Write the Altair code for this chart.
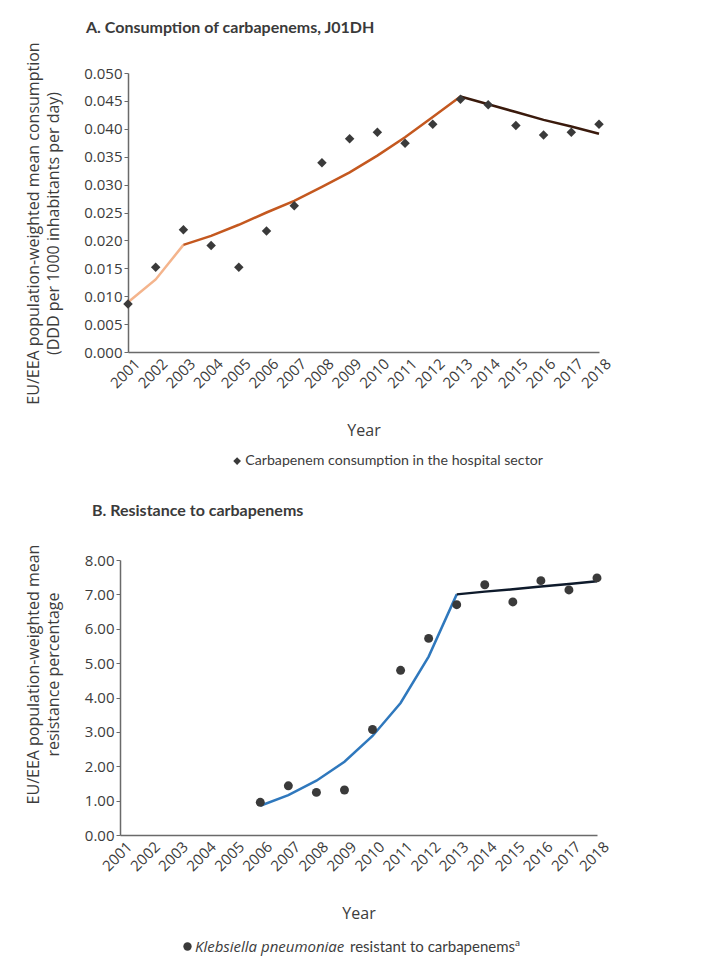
import altair as alt
import pandas as pd

# ---------------- data ----------------
years = list(range(2001, 2019))

# Panel A: carbapenem consumption (DDD per 1000 inhabitants per day)
cons_years = list(range(2001, 2019))
cons_values = [0.0086, 0.0152, 0.0219, 0.0191, 0.0152, 0.0217, 0.0262, 0.0339, 0.0382,
               0.0394, 0.0374, 0.0408, 0.0453, 0.0443, 0.0406, 0.0389, 0.0394, 0.0408]

trendA1_years = [2001, 2002, 2003]
trendA1_values = [0.0089, 0.0130, 0.0192]
trendA2_years = list(range(2003, 2014))
trendA2_values = [0.0192, 0.0208, 0.0228, 0.0250, 0.0271, 0.0296, 0.0322, 0.0352, 0.0385, 0.0421, 0.0458]
trendA3_years = list(range(2013, 2019))
trendA3_values = [0.0458, 0.0444, 0.0430, 0.0416, 0.0404, 0.0391]

# Panel B: Klebsiella pneumoniae resistance (%)
res_years = list(range(2006, 2019))
res_values = [0.95, 1.43, 1.24, 1.31, 3.07, 4.79, 5.72, 6.70, 7.28, 6.78, 7.40, 7.13, 7.48]

trendB1_years = list(range(2006, 2014))
trendB1_values = [0.85, 1.16, 1.58, 2.13, 2.88, 3.84, 5.19, 7.00]
trendB2_years = list(range(2013, 2019))
trendB2_values = [7.00, 7.08, 7.15, 7.23, 7.30, 7.38]

cons_ticks = [0.000, 0.005, 0.010, 0.015, 0.020, 0.025, 0.030, 0.035, 0.040, 0.045, 0.050]
res_ticks = [0, 1, 2, 3, 4, 5, 6, 7, 8]

# ---------------- frames ----------------
cons_df = pd.DataFrame({"year": cons_years, "cons": cons_values,
                        "series": "Carbapenem consumption in the hospital sector"})
trendA_df = pd.concat([
    pd.DataFrame({"year": trendA1_years, "cons": trendA1_values, "seg": "a1"}),
    pd.DataFrame({"year": trendA2_years, "cons": trendA2_values, "seg": "a2"}),
    pd.DataFrame({"year": trendA3_years, "cons": trendA3_values, "seg": "a3"}),
])
res_df = pd.DataFrame({"year": res_years, "res": res_values, "series2": "Klebsiella pneumoniae"})
trendB_df = pd.concat([
    pd.DataFrame({"year": trendB1_years, "res": trendB1_values, "segb": "b1"}),
    pd.DataFrame({"year": trendB2_years, "res": trendB2_values, "segb": "b2"}),
])

FONT = "Open Sans"
LEG_FONT = "Lato"
TITLE_FONT = "Lato"
TXT = "#3c3c3c"
AX = "#6a6a6a"
PT = "#3a3a3a"


def x_enc(scale):
    return alt.X("year:Q", scale=scale,
                 axis=alt.Axis(values=years, format="d", labelAngle=-45, title="Year",
                               ticks=False, grid=False, labelFont=FONT, labelFontSize=15,
                               labelOverlap=False, labelBound=False, labelOffset=4,
                               labelColor=TXT, titleFont=FONT, titleFontSize=16,
                               titleFontWeight="normal", titleColor=TXT, titlePadding=32,
                               domainColor=AX, domainWidth=1.5, labelPadding=4))


# ---------------- panel A ----------------
xA_scale = alt.Scale(domain=[2001, 2018], nice=False, zero=False)
yA = alt.Y("cons:Q", scale=alt.Scale(domain=[0, 0.05], nice=False),
           axis=alt.Axis(values=cons_ticks, format=".3f", grid=False,
                         title=["EU/EEA population-weighted mean consumption",
                                "(DDD per 1000 inhabitants per day)"],
                         labelFont=FONT, labelFontSize=15, labelColor=TXT,
                         titleFont=FONT, titleFontSize=16, titleFontWeight="normal",
                         titleColor=TXT, titleLineHeight=20, titlePadding=22, titleY=150,
                         domainColor=AX, domainWidth=1.5, tickColor=AX, tickSize=4))

linesA = alt.Chart(trendA_df).mark_line(strokeWidth=2.5).encode(
    x=x_enc(xA_scale), y=yA,
    color=alt.Color("seg:N", scale=alt.Scale(domain=["a1", "a2", "a3"],
                                             range=["#F4B48C", "#C4581F", "#3A1A0C"]),
                    legend=None),
)
pointsA = alt.Chart(cons_df).mark_point(filled=True, size=90, opacity=1, color=PT).encode(
    x=x_enc(xA_scale), y=yA,
    shape=alt.Shape("series:N", scale=alt.Scale(range=["diamond"]),
                    legend=alt.Legend(title=None, orient="none", legendX=102, legendY=381,
                                      labelFont=LEG_FONT, labelFontSize=14.2, labelColor=TXT,
                                      labelLimit=500,
                                      symbolFillColor=PT, symbolStrokeColor=PT,
                                      symbolSize=60, padding=0, labelOffset=1)),
)
chartA = alt.layer(linesA, pointsA).properties(
    width=471, height=279,
    title=alt.TitleParams("A. Consumption of carbapenems, J01DH", font=TITLE_FONT,
                          fontSize=16, fontWeight="bold", color="#3a3a3a",
                          anchor="start", frame="group", dx=-42, offset=6),
)

# ---------------- panel B ----------------
# plot group is aligned with panel A; the scale range starts 8px to the left
xB_scale = alt.Scale(domain=[2001, 2018], nice=False, zero=False, range=[-8, 469])
yB = alt.Y("res:Q", scale=alt.Scale(domain=[0, 8], nice=False),
           axis=alt.Axis(values=res_ticks, format=".2f", grid=False, offset=8,
                         title=["EU/EEA population-weighted mean",
                                "resistance percentage"],
                         labelFont=FONT, labelFontSize=15, labelColor=TXT,
                         titleFont=FONT, titleFontSize=16, titleFontWeight="normal",
                         titleColor=TXT, titleLineHeight=20, titlePadding=23, titleY=114,
                         domainColor=AX, domainWidth=1.5, tickColor=AX, tickSize=4))

linesB = alt.Chart(trendB_df).mark_line(strokeWidth=2.5).encode(
    x=x_enc(xB_scale), y=yB,
    color=alt.Color("segb:N", scale=alt.Scale(domain=["b1", "b2"],
                                              range=["#2F78BD", "#0E1A2B"]),
                    legend=None),
)
pointsB = alt.Chart(res_df).mark_point(filled=True, size=80, opacity=1, color=PT).encode(
    x=x_enc(xB_scale), y=yB,
    shape=alt.Shape("series2:N", scale=alt.Scale(range=["circle"]),
                    legend=alt.Legend(title=None, orient="none", legendX=52, legendY=379,
                                      labelFont=FONT, labelFontSize=15, labelColor=TXT,
                                      labelFontStyle="italic", labelLimit=500,
                                      symbolFillColor=PT, symbolStrokeColor=PT,
                                      symbolSize=70, padding=0, labelOffset=0)),
)
legend_rest = alt.Chart(pd.DataFrame({"t": ["resistant to carbapenems"]})).mark_text(
    align="left", baseline="middle", font=LEG_FONT, fontSize=15, color=TXT,
).encode(text="t:N", x=alt.value(222), y=alt.value(387))
legend_sup = alt.Chart(pd.DataFrame({"t": ["a"]})).mark_text(
    align="left", baseline="middle", font=LEG_FONT, fontSize=10, color=TXT,
).encode(text="t:N", x=alt.value(387), y=alt.value(383))

chartB = alt.layer(linesB, pointsB, legend_rest, legend_sup).properties(
    width=469, height=275,
    title=alt.TitleParams("B. Resistance to carbapenems", font=TITLE_FONT,
                          fontSize=16, fontWeight="bold", color="#3a3a3a",
                          anchor="start", frame="group", dx=-36, offset=25),
)

chart = alt.concat(chartA, chartB, columns=1, spacing=34).resolve_scale(
    x="independent", y="independent", color="independent", shape="independent"
).properties(
    padding={"left": 17, "top": 11, "right": 5, "bottom": 5},
).configure_view(stroke=None)

chart.save("out.html", embed_options={"renderer": "svg", "actions": False})
